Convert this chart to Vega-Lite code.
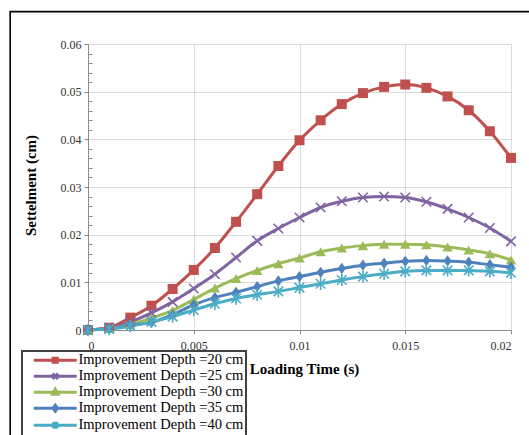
{
  "$schema": "https://vega.github.io/schema/vega-lite/v6.json",
  "width": 423,
  "height": 286,
  "autosize": "none",
  "padding": {"left": 88, "top": 44, "right": 18, "bottom": 105},
  "background": "white",
  "config": {"view": {"stroke": null}},
  "datasets": {
    "curves": [
      {"t": 0, "s": 0, "series": "Improvement Depth =20 cm"},
      {"t": 0.001, "s": 0.0005, "series": "Improvement Depth =20 cm"},
      {"t": 0.002, "s": 0.0026, "series": "Improvement Depth =20 cm"},
      {"t": 0.003, "s": 0.0051, "series": "Improvement Depth =20 cm"},
      {"t": 0.004, "s": 0.0086, "series": "Improvement Depth =20 cm"},
      {"t": 0.005, "s": 0.0126, "series": "Improvement Depth =20 cm"},
      {"t": 0.006, "s": 0.0172, "series": "Improvement Depth =20 cm"},
      {"t": 0.007, "s": 0.0227, "series": "Improvement Depth =20 cm"},
      {"t": 0.008, "s": 0.0285, "series": "Improvement Depth =20 cm"},
      {"t": 0.009, "s": 0.0344, "series": "Improvement Depth =20 cm"},
      {"t": 0.010, "s": 0.0398, "series": "Improvement Depth =20 cm"},
      {"t": 0.011, "s": 0.0440, "series": "Improvement Depth =20 cm"},
      {"t": 0.012, "s": 0.0474, "series": "Improvement Depth =20 cm"},
      {"t": 0.013, "s": 0.0497, "series": "Improvement Depth =20 cm"},
      {"t": 0.014, "s": 0.0510, "series": "Improvement Depth =20 cm"},
      {"t": 0.015, "s": 0.0515, "series": "Improvement Depth =20 cm"},
      {"t": 0.016, "s": 0.0508, "series": "Improvement Depth =20 cm"},
      {"t": 0.017, "s": 0.0490, "series": "Improvement Depth =20 cm"},
      {"t": 0.018, "s": 0.0461, "series": "Improvement Depth =20 cm"},
      {"t": 0.019, "s": 0.0417, "series": "Improvement Depth =20 cm"},
      {"t": 0.020, "s": 0.0361, "series": "Improvement Depth =20 cm"},

      {"t": 0, "s": 0, "series": "Improvement Depth =25 cm"},
      {"t": 0.001, "s": 0.0004, "series": "Improvement Depth =25 cm"},
      {"t": 0.002, "s": 0.0017, "series": "Improvement Depth =25 cm"},
      {"t": 0.003, "s": 0.0036, "series": "Improvement Depth =25 cm"},
      {"t": 0.004, "s": 0.0059, "series": "Improvement Depth =25 cm"},
      {"t": 0.005, "s": 0.0087, "series": "Improvement Depth =25 cm"},
      {"t": 0.006, "s": 0.0117, "series": "Improvement Depth =25 cm"},
      {"t": 0.007, "s": 0.0152, "series": "Improvement Depth =25 cm"},
      {"t": 0.008, "s": 0.0187, "series": "Improvement Depth =25 cm"},
      {"t": 0.009, "s": 0.0213, "series": "Improvement Depth =25 cm"},
      {"t": 0.010, "s": 0.0236, "series": "Improvement Depth =25 cm"},
      {"t": 0.011, "s": 0.0257, "series": "Improvement Depth =25 cm"},
      {"t": 0.012, "s": 0.0270, "series": "Improvement Depth =25 cm"},
      {"t": 0.013, "s": 0.0278, "series": "Improvement Depth =25 cm"},
      {"t": 0.014, "s": 0.0280, "series": "Improvement Depth =25 cm"},
      {"t": 0.015, "s": 0.0278, "series": "Improvement Depth =25 cm"},
      {"t": 0.016, "s": 0.0269, "series": "Improvement Depth =25 cm"},
      {"t": 0.017, "s": 0.0254, "series": "Improvement Depth =25 cm"},
      {"t": 0.018, "s": 0.0236, "series": "Improvement Depth =25 cm"},
      {"t": 0.019, "s": 0.0214, "series": "Improvement Depth =25 cm"},
      {"t": 0.020, "s": 0.0186, "series": "Improvement Depth =25 cm"},

      {"t": 0, "s": 0, "series": "Improvement Depth =30 cm"},
      {"t": 0.001, "s": 0.0003, "series": "Improvement Depth =30 cm"},
      {"t": 0.002, "s": 0.0012, "series": "Improvement Depth =30 cm"},
      {"t": 0.003, "s": 0.0025, "series": "Improvement Depth =30 cm"},
      {"t": 0.004, "s": 0.0041, "series": "Improvement Depth =30 cm"},
      {"t": 0.005, "s": 0.0064, "series": "Improvement Depth =30 cm"},
      {"t": 0.006, "s": 0.0088, "series": "Improvement Depth =30 cm"},
      {"t": 0.007, "s": 0.0108, "series": "Improvement Depth =30 cm"},
      {"t": 0.008, "s": 0.0125, "series": "Improvement Depth =30 cm"},
      {"t": 0.009, "s": 0.0139, "series": "Improvement Depth =30 cm"},
      {"t": 0.010, "s": 0.0151, "series": "Improvement Depth =30 cm"},
      {"t": 0.011, "s": 0.0164, "series": "Improvement Depth =30 cm"},
      {"t": 0.012, "s": 0.0172, "series": "Improvement Depth =30 cm"},
      {"t": 0.013, "s": 0.0177, "series": "Improvement Depth =30 cm"},
      {"t": 0.014, "s": 0.0180, "series": "Improvement Depth =30 cm"},
      {"t": 0.015, "s": 0.0180, "series": "Improvement Depth =30 cm"},
      {"t": 0.016, "s": 0.0179, "series": "Improvement Depth =30 cm"},
      {"t": 0.017, "s": 0.0174, "series": "Improvement Depth =30 cm"},
      {"t": 0.018, "s": 0.0168, "series": "Improvement Depth =30 cm"},
      {"t": 0.019, "s": 0.0160, "series": "Improvement Depth =30 cm"},
      {"t": 0.020, "s": 0.0147, "series": "Improvement Depth =30 cm"},

      {"t": 0, "s": 0, "series": "Improvement Depth =35 cm"},
      {"t": 0.001, "s": 0.0003, "series": "Improvement Depth =35 cm"},
      {"t": 0.002, "s": 0.0010, "series": "Improvement Depth =35 cm"},
      {"t": 0.003, "s": 0.0016, "series": "Improvement Depth =35 cm"},
      {"t": 0.004, "s": 0.0032, "series": "Improvement Depth =35 cm"},
      {"t": 0.005, "s": 0.0053, "series": "Improvement Depth =35 cm"},
      {"t": 0.006, "s": 0.0068, "series": "Improvement Depth =35 cm"},
      {"t": 0.007, "s": 0.0079, "series": "Improvement Depth =35 cm"},
      {"t": 0.008, "s": 0.0091, "series": "Improvement Depth =35 cm"},
      {"t": 0.009, "s": 0.0103, "series": "Improvement Depth =35 cm"},
      {"t": 0.010, "s": 0.0112, "series": "Improvement Depth =35 cm"},
      {"t": 0.011, "s": 0.0121, "series": "Improvement Depth =35 cm"},
      {"t": 0.012, "s": 0.0129, "series": "Improvement Depth =35 cm"},
      {"t": 0.013, "s": 0.0136, "series": "Improvement Depth =35 cm"},
      {"t": 0.014, "s": 0.0140, "series": "Improvement Depth =35 cm"},
      {"t": 0.015, "s": 0.0144, "series": "Improvement Depth =35 cm"},
      {"t": 0.016, "s": 0.0146, "series": "Improvement Depth =35 cm"},
      {"t": 0.017, "s": 0.0145, "series": "Improvement Depth =35 cm"},
      {"t": 0.018, "s": 0.0142, "series": "Improvement Depth =35 cm"},
      {"t": 0.019, "s": 0.0137, "series": "Improvement Depth =35 cm"},
      {"t": 0.020, "s": 0.0132, "series": "Improvement Depth =35 cm"},

      {"t": 0, "s": 0, "series": "Improvement Depth =40 cm"},
      {"t": 0.001, "s": 0.0002, "series": "Improvement Depth =40 cm"},
      {"t": 0.002, "s": 0.0008, "series": "Improvement Depth =40 cm"},
      {"t": 0.003, "s": 0.0017, "series": "Improvement Depth =40 cm"},
      {"t": 0.004, "s": 0.0028, "series": "Improvement Depth =40 cm"},
      {"t": 0.005, "s": 0.0042, "series": "Improvement Depth =40 cm"},
      {"t": 0.006, "s": 0.0055, "series": "Improvement Depth =40 cm"},
      {"t": 0.007, "s": 0.0066, "series": "Improvement Depth =40 cm"},
      {"t": 0.008, "s": 0.0074, "series": "Improvement Depth =40 cm"},
      {"t": 0.009, "s": 0.0081, "series": "Improvement Depth =40 cm"},
      {"t": 0.010, "s": 0.0089, "series": "Improvement Depth =40 cm"},
      {"t": 0.011, "s": 0.0097, "series": "Improvement Depth =40 cm"},
      {"t": 0.012, "s": 0.0105, "series": "Improvement Depth =40 cm"},
      {"t": 0.013, "s": 0.0112, "series": "Improvement Depth =40 cm"},
      {"t": 0.014, "s": 0.0118, "series": "Improvement Depth =40 cm"},
      {"t": 0.015, "s": 0.0123, "series": "Improvement Depth =40 cm"},
      {"t": 0.016, "s": 0.0125, "series": "Improvement Depth =40 cm"},
      {"t": 0.017, "s": 0.0125, "series": "Improvement Depth =40 cm"},
      {"t": 0.018, "s": 0.0125, "series": "Improvement Depth =40 cm"},
      {"t": 0.019, "s": 0.0123, "series": "Improvement Depth =40 cm"},
      {"t": 0.020, "s": 0.0120, "series": "Improvement Depth =40 cm"}
    ]
  },
  "resolve": {"axis": {"x": "independent", "y": "independent"}},
  "layer": [
    {
      "data": {"values": [{}]},
      "mark": {"type": "rect", "fill": null, "stroke": "#000000", "strokeWidth": 1.6, "clip": false},
      "encoding": {
        "x": {"datum": -0.00368, "type": "quantitative", "scale": {"domain": [0, 0.02], "nice": false, "zero": false}, "axis": null},
        "x2": {"datum": 0.0218},
        "y": {"datum": 0.0668, "type": "quantitative", "scale": {"domain": [0, 0.06], "nice": false, "zero": false}, "axis": null},
        "y2": {"datum": -0.03}
      }
    },
    {
      "data": {"name": "curves"},
      "mark": {"type": "line", "interpolate": "monotone", "strokeWidth": 3},
      "encoding": {
        "x": {
          "field": "t", "type": "quantitative",
          "scale": {"domain": [0, 0.02], "nice": false, "zero": false},
          "axis": {
            "orient": "bottom",
            "values": [0, 0.005, 0.01, 0.015, 0.02],
            "format": ".3~f",
            "title": "Loading Time (s)",
            "titleFont": "Liberation Serif", "titleFontSize": 15, "titleFontWeight": "bold", "titleColor": "#000000",
            "titleX": 216, "titleY": 38, "titleAlign": "center", "titleBaseline": "middle",
            "labelFont": "Liberation Serif", "labelFontSize": 12, "labelColor": "#333333", "labelPadding": 6,
            "domainColor": "#8c8c8c", "domainWidth": 1,
            "tickColor": "#8c8c8c", "tickSize": 4,
            "grid": true, "gridColor": "#dcdcdc", "gridWidth": 1
          }
        },
        "y": {
          "field": "s", "type": "quantitative",
          "scale": {"domain": [0, 0.06], "nice": false, "zero": false},
          "axis": {
            "orient": "left",
            "values": [0, 0.01, 0.02, 0.03, 0.04, 0.05, 0.06],
            "format": ".2~f",
            "title": "Settelment (cm)",
            "titleFont": "Liberation Serif", "titleFontSize": 15, "titleFontWeight": "bold", "titleColor": "#000000",
            "titleX": -58, "titleY": 141, "titleAngle": -90, "titleAlign": "center", "titleBaseline": "middle",
            "labelFont": "Liberation Serif", "labelFontSize": 12, "labelColor": "#333333", "labelPadding": 3,
            "domainColor": "#8c8c8c", "domainWidth": 1,
            "tickColor": "#8c8c8c", "tickSize": 4,
            "grid": true, "gridColor": "#dcdcdc", "gridWidth": 1
          }
        },
        "color": {
          "field": "series", "type": "nominal",
          "scale": {
            "domain": ["Improvement Depth =20 cm", "Improvement Depth =25 cm", "Improvement Depth =30 cm", "Improvement Depth =35 cm", "Improvement Depth =40 cm"],
            "range": ["#c0504d", "#8064a2", "#9bbb59", "#4f81bd", "#4bacc6"]
          },
          "legend": {
            "orient": "none", "legendX": -66, "legendY": 307,
            "title": null,
            "labelFont": "Liberation Serif", "labelFontSize": 14.5, "labelColor": "#000000", "labelLimit": 400,
            "labelOffset": 16, "symbolOffset": 24,
            "symbolSize": 121, "symbolStrokeWidth": 1,
            "rowPadding": -5, "padding": 2,
            "strokeColor": "#404040",
            "encode": {
              "legend": {"update": {"strokeWidth": {"value": 2}}},
              "symbols": {
                "update": {
                  "shape": {"signal": "datum.index == 0 ? 'M-3.9,0H3.9M-0.38,-0.38H0.38V0.38H-0.38Z' : datum.index == 1 ? 'M-3.9,0H3.9M-0.5,-0.5L0.5,0.5M-0.5,0.5L0.5,-0.5' : datum.index == 2 ? 'M-3.9,0H3.9M0,-0.55L0.5,0.38H-0.5Z' : datum.index == 3 ? 'M-3.9,0H3.9M0,-0.55L0.4,0L0,0.55L-0.4,0Z' : 'M-3.9,0H3.9M-0.5,-0.5L0.5,0.5M-0.5,0.5L0.5,-0.5M0,-0.62V0.62'"},
                  "fill": {"scale": "color", "field": "value"},
                  "stroke": {"scale": "color", "field": "value"},
                  "strokeWidth": {"value": 3}
                }
              }
            }
          }
        }
      }
    },
    {
      "data": {"name": "curves"},
      "transform": [{"filter": "datum.series == 'Improvement Depth =20 cm'"}],
      "mark": {"type": "point", "shape": "square", "filled": true, "opacity": 1, "color": "#c0504d", "size": 100},
      "encoding": {
        "x": {"field": "t", "type": "quantitative", "scale": {"domain": [0, 0.02], "nice": false, "zero": false}, "axis": null},
        "y": {"field": "s", "type": "quantitative", "scale": {"domain": [0, 0.06], "nice": false, "zero": false}, "axis": null}
      }
    },
    {
      "data": {"name": "curves"},
      "transform": [{"filter": "datum.series == 'Improvement Depth =25 cm'"}],
      "mark": {"type": "point", "shape": "M-1,-1L1,1M-1,1L1,-1", "filled": false, "opacity": 1, "color": "#8064a2", "strokeWidth": 1.6, "size": 90},
      "encoding": {
        "x": {"field": "t", "type": "quantitative", "scale": {"domain": [0, 0.02], "nice": false, "zero": false}, "axis": null},
        "y": {"field": "s", "type": "quantitative", "scale": {"domain": [0, 0.06], "nice": false, "zero": false}, "axis": null}
      }
    },
    {
      "data": {"name": "curves"},
      "transform": [{"filter": "datum.series == 'Improvement Depth =30 cm'"}],
      "mark": {"type": "point", "shape": "triangle-up", "filled": true, "opacity": 1, "color": "#9bbb59", "size": 110},
      "encoding": {
        "x": {"field": "t", "type": "quantitative", "scale": {"domain": [0, 0.02], "nice": false, "zero": false}, "axis": null},
        "y": {"field": "s", "type": "quantitative", "scale": {"domain": [0, 0.06], "nice": false, "zero": false}, "axis": null}
      }
    },
    {
      "data": {"name": "curves"},
      "transform": [{"filter": "datum.series == 'Improvement Depth =35 cm'"}],
      "mark": {"type": "point", "shape": "M0,-1.2L0.85,0L0,1.2L-0.85,0Z", "filled": true, "opacity": 1, "color": "#4f81bd", "size": 90},
      "encoding": {
        "x": {"field": "t", "type": "quantitative", "scale": {"domain": [0, 0.02], "nice": false, "zero": false}, "axis": null},
        "y": {"field": "s", "type": "quantitative", "scale": {"domain": [0, 0.06], "nice": false, "zero": false}, "axis": null}
      }
    },
    {
      "data": {"name": "curves"},
      "transform": [{"filter": "datum.series == 'Improvement Depth =40 cm'"}],
      "mark": {"type": "point", "shape": "M-1,-1L1,1M-1,1L1,-1M0,-1.3V1.3", "filled": false, "opacity": 1, "color": "#4bacc6", "strokeWidth": 1.6, "size": 90},
      "encoding": {
        "x": {"field": "t", "type": "quantitative", "scale": {"domain": [0, 0.02], "nice": false, "zero": false}, "axis": null},
        "y": {
          "field": "s", "type": "quantitative",
          "scale": {"domain": [0, 0.06], "nice": false, "zero": false},
          "axis": {
            "orient": "left",
            "values": [0.002, 0.004, 0.006, 0.008, 0.012, 0.014, 0.016, 0.018, 0.022, 0.024, 0.026, 0.028, 0.032, 0.034, 0.036, 0.038, 0.042, 0.044, 0.046, 0.048, 0.052, 0.054, 0.056, 0.058],
            "labels": false, "domain": false, "grid": false, "title": null,
            "tickColor": "#8c8c8c", "tickSize": -4
          }
        }
      }
    }
  ]
}
